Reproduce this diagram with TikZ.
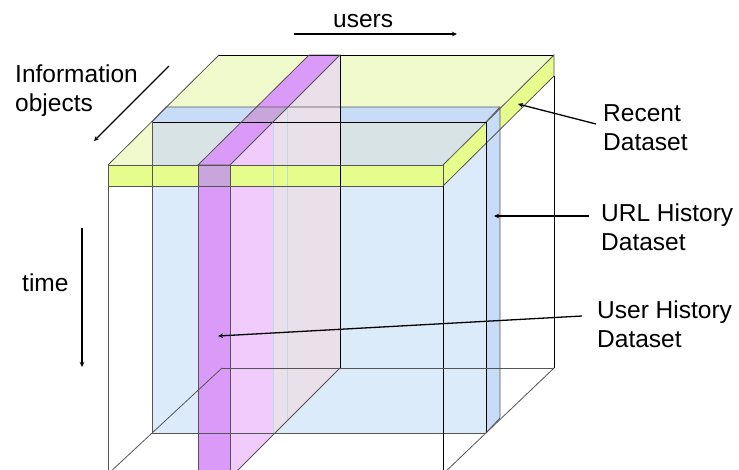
\documentclass[tikz,border=0pt]{standalone}
\usepackage{fontspec}
\setmainfont{Liberation Sans}
\usetikzlibrary{arrows.meta}

% face colours of the data cube
\definecolor{topyellow}{HTML}{F0FACC}
\definecolor{bandyellow}{HTML}{E6FC8C}
\definecolor{slabblue}{HTML}{DCEBFA}
\definecolor{slabedge}{HTML}{C8DCF8}
\definecolor{tealgrey}{HTML}{D7E3E4}
\definecolor{userpurple}{HTML}{DA9AF8}
\definecolor{purplemix}{HTML}{C8A6DC}
\definecolor{sidepink}{HTML}{F0CBFB}
\definecolor{sidegrey}{HTML}{E9E0E9}
\definecolor{cutline}{HTML}{B8DDE6}
\definecolor{edgegrey}{HTML}{555555}

\begin{document}
\begin{tikzpicture}[x=1pt,y=-1pt,
  edge/.style={draw=edgegrey, line width=0.8pt},
  darkedge/.style={draw=black, line width=0.8pt},
  cut/.style={draw=cutline, line width=0.8pt},
  pointer/.style={draw=black, line width=1.3pt, -{Stealth[length=5pt,width=4.5pt]}},
  label/.style={font=\fontsize{24.5}{29}\selectfont, align=left, inner sep=0pt, anchor=base west},
]
\useasboundingbox (0,0) rectangle (739,469);
\fill[white] (0,0) rectangle (739,469);

\begin{scope}
\clip (0,0) rectangle (739,469);

% top face of the recent slab
\fill[topyellow] (108,165) -- (219,55) -- (554,55) -- (443,165) -- cycle;

% URL history slab: front face, the part under the top slab, top face
\fill[slabblue] (152,122) rectangle (486,433);
\fill[tealgrey] (152,122) -- (486,122) -- (443,165) -- (152,165) -- cycle;
\fill[slabedge] (152,122) -- (166,107) -- (500,107) -- (486,122) -- cycle;

% side face of the user history slab (in front of / behind the URL slab)
\fill[sidepink] (230,165) -- (273,122) -- (273,435) -- (230,478) -- cycle;
\fill[sidegrey] (273,122) -- (340,55) -- (340,368) -- (273,435) -- cycle;

% front and right bands of the recent slab
\fill[bandyellow] (108,165) rectangle (443,186);
\fill[bandyellow] (443,165) -- (554,55) -- (554,76) -- (443,186) -- cycle;

% right side of the URL history slab
\fill[slabedge] (486,122) -- (500,107) -- (500,418) -- (486,433) -- cycle;

% user history slab: top and front faces, with the overlaps
\fill[userpurple] (198,165) -- (309,55) -- (340,55) -- (230,165) -- cycle;
\fill[userpurple] (198,165) rectangle (230,480);
\fill[purplemix] (241.4,122) -- (256.5,107) -- (288,107) -- (273,122) -- cycle;
\fill[purplemix] (198,165) rectangle (230,186);

% where the URL slab cuts the side face
\draw[cut] (273,122) -- (273,435);
\draw[cut] (287,108) -- (287,421);

% edges of the recent slab
\draw[edge] (108,165) -- (219,55);
\draw[darkedge] (219,55) -- (554,55);
\draw[edge] (443,165) -- (554,55) -- (554,76) -- (443,186);
\draw[edge] (108,165) rectangle (443,186);

% edges of the URL history slab
\draw[darkedge] (152,122) -- (486,122);
\draw[edge] (152,122) -- (152,433) -- (486,433);
\draw[darkedge] (486,122) -- (486,433);
\draw[edge] (152,122) -- (166,107) -- (500,107) -- (500,418) -- (486,433);
\draw[edge] (486,122) -- (500,107);

% edges of the outer cube
\draw[edge] (108,186) -- (108,480);
\draw[darkedge] (443,186) -- (443,480);
\draw[darkedge] (554,76) -- (554,368);
\draw[edge] (222,368) -- (554,368);
\draw[edge] (222,368) -- (108,474);
\draw[edge] (554,368) -- (443,474);

% edges of the user history slab
\draw[darkedge] (340,55) -- (340,368);
\draw[edge] (340,368) -- (230,478);
\draw[edge] (198,165) -- (309,55) -- (340,55) -- (230,165) -- cycle;
\draw[edge] (198,165) -- (198,480);
\draw[edge] (230,165) -- (230,480);
\draw[edge] (198,186) -- (230,186);
\end{scope}

% axis labels (a two-line node sits on the baseline of its last line)
\node[label] (users) at (333,27) {users};
\node[label] (info) at (15,111) {Information\\objects};
\node[label] (time) at (22,291) {time};

% dataset labels
\node[label] (recent) at (603,150) {Recent\\Dataset};
\node[label] (url) at (601,250) {URL History\\Dataset};
\node[label] (userhist) at (597,347) {User History\\Dataset};

% arrow ends
\coordinate (users-tail) at (294,34);
\coordinate (users-tip) at (457,34);
\coordinate (info-tail) at (169,66);
\coordinate (info-tip) at (94,141);
\coordinate (time-tail) at (82,228);
\coordinate (time-tip) at (82,367);
\coordinate (recent-tail) at (596,124);
\coordinate (recent-tip) at (518,104);
\coordinate (url-tail) at (589,216);
\coordinate (url-tip) at (494,216);
\coordinate (userhist-tail) at (582,316);
\coordinate (userhist-tip) at (218,336);

\draw[pointer] (users-tail) -- (users-tip);
\draw[pointer] (info-tail) -- (info-tip);
\draw[pointer] (time-tail) -- (time-tip);
\draw[pointer] (recent-tail) -- (recent-tip);
\draw[pointer] (url-tail) -- (url-tip);
\draw[pointer] (userhist-tail) -- (userhist-tip);
\end{tikzpicture}
\end{document}
